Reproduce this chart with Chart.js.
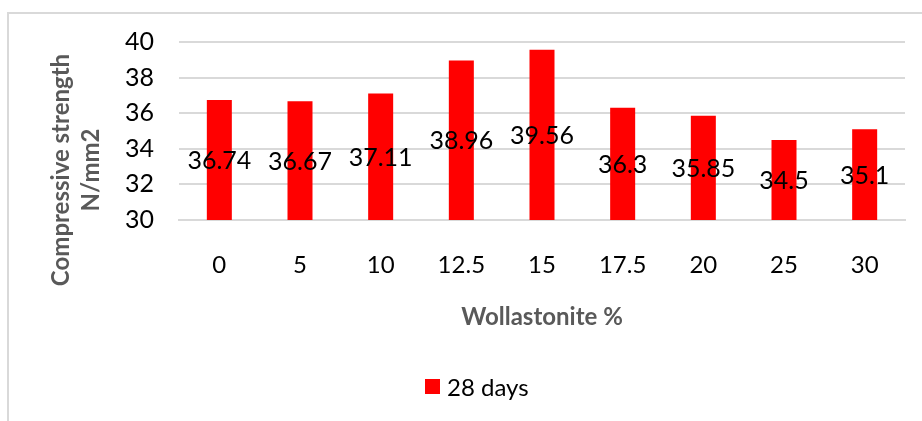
<!DOCTYPE html>
<html>
<head>
<meta charset="utf-8">
<script src="https://cdn.jsdelivr.net/npm/chart.js@4"></script>
<style>
  html, body { margin: 0; padding: 0; background: #fff; }
  #wrap { position: relative; width: 922px; height: 421px; overflow: hidden; }
  #frame { position: absolute; left: 7px; top: 12px; width: 1000px; height: 600px;
           border: 2px solid #d9d9d9; box-sizing: border-box; pointer-events: none; }
  canvas { position: absolute; left: 0; top: 0; }
</style>
</head>
<body>
<div id="wrap">
  <div id="frame"></div>
  <canvas id="chart" width="922" height="421"></canvas>
</div>
<script>
const categories = ['0', '5', '10', '12.5', '15', '17.5', '20', '25', '30'];
const days28 = [36.74, 36.67, 37.11, 38.96, 39.56, 36.3, 35.85, 34.5, 35.1];
const seriesName = '28 days';
const yTitle = ['Compressive strength', 'N/mm2'];
const xTitle = 'Wollastonite %';

const FONT = 'Lato, "Open Sans", sans-serif';

// value labels sit in the middle of the visible part of each bar
const barLabels = {
  id: 'barLabels',
  afterDatasetsDraw(chart) {
    const ctx = chart.ctx;
    const yScale = chart.scales.y;
    const base = yScale.getPixelForValue(yScale.min);
    const meta = chart.getDatasetMeta(0);
    ctx.save();
    ctx.font = '25px ' + FONT;
    ctx.fillStyle = '#000';
    ctx.textAlign = 'center';
    ctx.textBaseline = 'middle';
    meta.data.forEach((bar, i) => {
      const { x, y } = bar.getProps(['x', 'y'], true);
      ctx.fillText(String(days28[i]), x, (y + base) / 2 + 1);
    });
    ctx.restore();
  }
};

// axis titles + legend drawn like the Excel original
const extras = {
  id: 'extras',
  afterDraw(chart) {
    const ctx = chart.ctx;
    const area = chart.chartArea;
    ctx.save();
    ctx.fillStyle = '#595959';
    ctx.font = 'bold 24px ' + FONT;
    ctx.textAlign = 'center';
    ctx.textBaseline = 'middle';
    ctx.fillText(xTitle, (area.left + area.right) / 2, area.bottom + 97);

    ctx.translate(76, 170);
    ctx.rotate(-Math.PI / 2);
    ctx.fillText(yTitle[0], 0, -15);
    ctx.fillText(yTitle[1], 0, 15);
    ctx.restore();

    ctx.save();
    ctx.fillStyle = '#ff0000';
    ctx.fillRect(425, 379, 15, 15);
    ctx.fillStyle = '#000';
    ctx.font = '24px ' + FONT;
    ctx.textAlign = 'left';
    ctx.textBaseline = 'middle';
    ctx.fillText(seriesName, 447, 388);
    ctx.restore();
  }
};

new Chart(document.getElementById('chart'), {
  type: 'bar',
  data: {
    labels: categories,
    datasets: [{
      label: seriesName,
      data: days28,
      backgroundColor: '#ff0000',
      borderWidth: 0,
      categoryPercentage: 1,
      barPercentage: 0.31
    }]
  },
  options: {
    responsive: false,
    animation: false,
    layout: { padding: { top: 42, right: 17, bottom: 0, left: 0 } },
    plugins: {
      legend: { display: false },
      tooltip: { enabled: false }
    },
    scales: {
      x: {
        grid: { display: false, drawTicks: false },
        border: { display: true, color: '#d9d9d9', width: 2 },
        ticks: { color: '#000', font: { family: FONT, size: 24 }, padding: 31 },
        afterFit(scale) { scale.height = 201; }
      },
      y: {
        min: 30,
        max: 40,
        ticks: { stepSize: 2, color: '#000', font: { family: FONT, size: 25 }, padding: 25 },
        grid: { color: '#d9d9d9', lineWidth: 2, drawTicks: false },
        border: { display: false },
        afterFit(scale) { scale.width = 179; }
      }
    }
  },
  plugins: [barLabels, extras]
});
</script>
</body>
</html>
